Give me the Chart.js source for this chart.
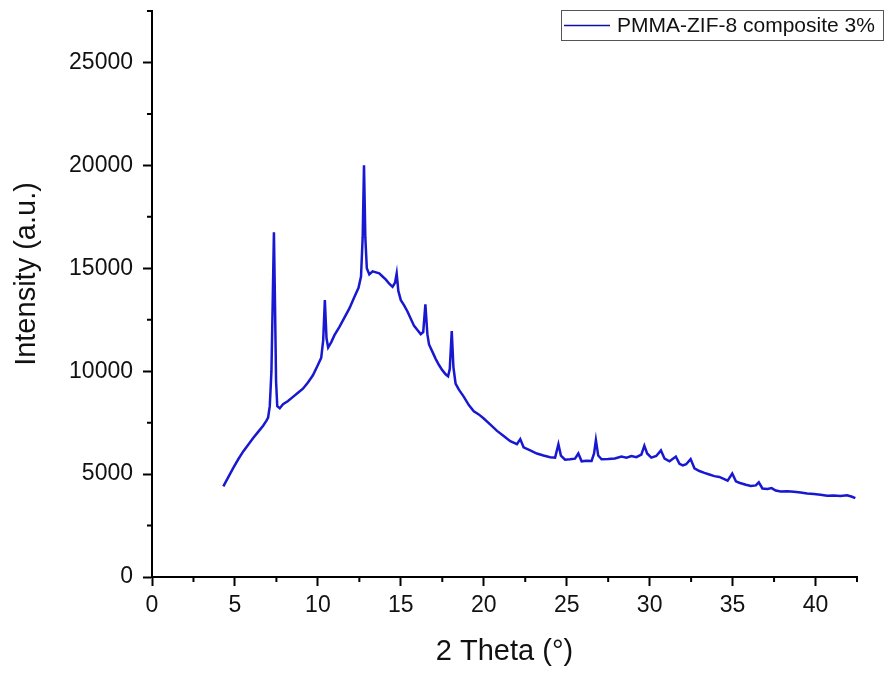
<!DOCTYPE html>
<html>
<head>
<meta charset="utf-8">
<script src="https://cdn.jsdelivr.net/npm/chart.js@4.4.1/dist/chart.umd.min.js"></script>
<style>
    body { margin: 0; background: #fff; }
</style>
</head>
<body>
<canvas id="myChart" width="885" height="677"></canvas>
<script>
// XRD pattern, values
const twoTheta = [
    4.3, 4.6, 4.9, 5.2, 5.5, 5.8, 6.1, 6.4, 6.7, 6.9, 7.0, 7.1, 7.2, 7.28, 7.35, 7.42, 7.48, 7.55, 7.7, 7.9,
    8.2, 8.5, 8.8, 9.1, 9.4, 9.7, 10.0, 10.2, 10.32, 10.42, 10.52, 10.62, 10.8, 11.0, 11.3, 11.6, 11.9, 12.2, 12.45, 12.6,
    12.7, 12.78, 12.86, 12.95, 13.1, 13.3, 13.5, 13.7, 13.9, 14.1, 14.3, 14.5, 14.65, 14.75, 14.85, 15.0, 15.2, 15.4, 15.6, 15.8,
    16.0, 16.2, 16.35, 16.48, 16.6, 16.7, 16.9, 17.1, 17.3, 17.5, 17.7, 17.85, 17.95, 18.07, 18.17, 18.3, 18.5, 18.8, 19.1, 19.4,
    19.7, 20.0, 20.4, 20.8, 21.2, 21.6, 22.0, 22.2, 22.4, 22.8, 23.2, 23.6, 24.0, 24.3, 24.5, 24.65, 24.9, 25.2, 25.5, 25.7,
    25.9, 26.2, 26.5, 26.65, 26.76, 26.9, 27.1, 27.5, 27.9, 28.3, 28.6, 28.9, 29.2, 29.5, 29.68, 29.85, 30.1, 30.4, 30.68, 30.9,
    31.2, 31.58, 31.8, 32.0, 32.2, 32.47, 32.7, 33.0, 33.3, 33.6, 33.9, 34.2, 34.5, 34.7, 34.98, 35.2, 35.4, 35.8, 36.1, 36.4,
    36.58, 36.8, 37.1, 37.35, 37.6, 37.9, 38.3, 38.7, 39.1, 39.5, 39.9, 40.3, 40.7, 41.1, 41.5, 41.9, 42.2, 42.4
]
const intensity = [
    4400, 4850, 5300, 5720, 6100, 6420, 6750, 7050, 7350, 7600, 7750, 8300, 10000, 13500, 16750, 13000, 9500, 8300, 8200, 8400,
    8550, 8750, 8950, 9150, 9450, 9800, 10300, 10650, 11500, 13450, 11600, 11150, 11400, 11750, 12150, 12600, 13050, 13600, 14050, 14600,
    16500, 20000, 16500, 15000, 14700, 14850, 14800, 14750, 14600, 14450, 14250, 14100, 14300, 14750, 13900, 13450, 13200, 12900, 12550, 12200,
    12000, 11800, 11900, 13250, 11800, 11300, 10950, 10600, 10300, 10050, 9850, 9750, 10100, 11950, 10200, 9400, 9100, 8750, 8350, 8050,
    7900, 7700, 7400, 7100, 6850, 6600, 6450, 6700, 6300, 6150, 6000, 5900, 5820, 5800, 6450, 5900, 5700, 5720, 5750, 6000,
    5620, 5650, 5640, 6000, 6650, 5900, 5720, 5730, 5760, 5850, 5800, 5880, 5820, 5950, 6380, 6000, 5800, 5880, 6150, 5750,
    5620, 5850, 5500, 5420, 5480, 5730, 5280, 5150, 5060, 4980, 4900, 4860, 4750, 4680, 5030, 4650, 4580, 4480, 4420, 4450,
    4600, 4300, 4280, 4320, 4200, 4150, 4170, 4140, 4100, 4060, 4030, 4000, 3950, 3960, 3940, 3970, 3900, 3830
]
const seriesLabel = 'PMMA-ZIF-8 composite 3%'

const xTicks = [0, 5, 10, 15, 20, 25, 30, 35, 40]
const xMinor = [2.5, 7.5, 12.5, 17.5, 22.5, 27.5, 32.5, 37.5, 42.5]
const yTicks = [0, 5000, 10000, 15000, 20000, 25000]
const yMinor = [2500, 7500, 12500, 17500, 22500, 27500]

const fontFamily = '"Liberation Sans", Arial, sans-serif'
const lineColor = '#1818d0'

let points = []
for (let i = 0; i < twoTheta.length; i++) {
    points.push({ x: twoTheta[i], y: intensity[i] })
}

// short ticks halfway between the labelled ones
const minorTicks = {
    id: 'minorTicks',
    afterDraw(chart) {
        const ctx = chart.ctx
        const x = chart.scales.x
        const y = chart.scales.y
        ctx.save()
        ctx.strokeStyle = '#000'
        ctx.lineWidth = 2
        ctx.beginPath()
        xMinor.forEach(v => {
            const px = x.getPixelForValue(v)
            ctx.moveTo(px, x.top)
            ctx.lineTo(px, x.top + 5)
        })
        yMinor.forEach(v => {
            const py = y.getPixelForValue(v)
            ctx.moveTo(y.right - 5, py)
            ctx.lineTo(y.right, py)
        })
        ctx.stroke()
        ctx.restore()
    }
}

// boxed legend in the top right corner, and the y title
const extras = {
    id: 'extras',
    afterDraw(chart) {
        const ctx = chart.ctx
        ctx.save()
        ctx.strokeStyle = '#555'
        ctx.lineWidth = 1
        ctx.strokeRect(561.5, 10.5, 322, 30)
        ctx.strokeStyle = '#1010a0'
        ctx.lineWidth = 1.5
        ctx.beginPath()
        ctx.moveTo(564, 25.5)
        ctx.lineTo(610, 25.5)
        ctx.stroke()
        ctx.fillStyle = '#111'
        ctx.font = '21px ' + fontFamily
        ctx.textBaseline = 'middle'
        ctx.textAlign = 'left'
        ctx.fillText(chart.data.datasets[0].label, 617, 26)

        ctx.translate(27, 274)
        ctx.rotate(-Math.PI / 2)
        ctx.font = '29px ' + fontFamily
        ctx.textAlign = 'center'
        ctx.fillText('Intensity (a.u.)', 0, 0)
        ctx.restore()
    }
}

Chart.defaults.font.family = fontFamily
Chart.defaults.color = '#111'

const ctx = document.getElementById('myChart').getContext('2d')
const myChart = new Chart(ctx, {
    type: 'line',
    data: {
        datasets: [{
            label: seriesLabel,
            data: points,
            borderColor: lineColor,
            borderWidth: 2.5,
            pointRadius: 0,
            tension: 0,
            fill: false
        }]
    },
    options: {
        responsive: false,
        animation: false,
        devicePixelRatio: 1,
        layout: { padding: { left: 0, right: 28, top: 11, bottom: 0 } },
        plugins: {
            legend: { display: false },
            tooltip: { enabled: false }
        },
        scales: {
            x: {
                type: 'linear',
                min: 0,
                max: 42.5,
                afterBuildTicks: s => { s.ticks = xTicks.map(v => ({ value: v })) },
                afterFit: s => { s.height = 100; s.paddingLeft = 0; s.paddingRight = 0 },
                ticks: { font: { size: 23 }, padding: 6, maxRotation: 0, callback: v => String(v) },
                grid: { drawOnChartArea: false, tickLength: 9, tickWidth: 2, tickColor: '#000' },
                border: { color: '#000', width: 2 },
                title: {
                    display: true,
                    text: '2 Theta (°)',
                    font: { size: 29 },
                    padding: { top: 0, bottom: 8 }
                }
            },
            y: {
                min: 0,
                max: 27500,
                afterBuildTicks: s => { s.ticks = yTicks.map(v => ({ value: v })) },
                afterFit: s => { s.width = 152; s.paddingTop = 0; s.paddingBottom = 0 },
                ticks: { font: { size: 23 }, padding: 10, callback: v => String(v) },
                grid: { drawOnChartArea: false, tickLength: 9, tickWidth: 2, tickColor: '#000' },
                border: { color: '#000', width: 2 }
            }
        }
    },
    plugins: [minorTicks, extras]
})
</script>
</body>
</html>
